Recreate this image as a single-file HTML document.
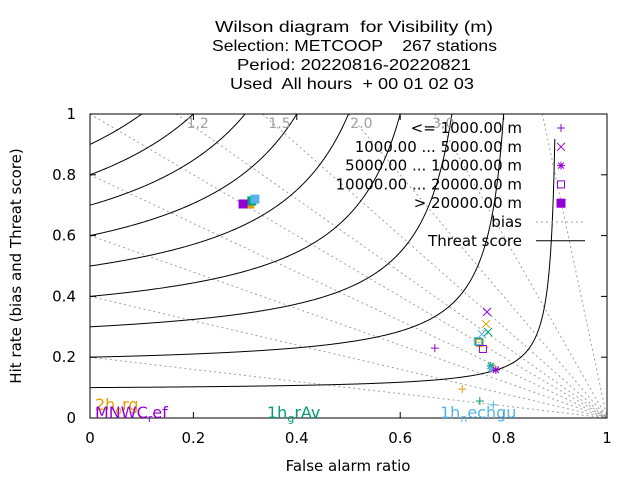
<!DOCTYPE html>
<html><head><meta charset="utf-8"><style>
body{margin:0;background:#fff}
svg{display:block}
text{font-family:"DejaVu Sans","Liberation Sans",sans-serif;white-space:pre}
</style></head><body>
<svg id="chart" width="640" height="480" viewBox="0 0 640 480" xmlns="http://www.w3.org/2000/svg" xml:space="preserve">
<g font-size="16" fill="#000"><text x="215" y="32" textLength="278" lengthAdjust="spacingAndGlyphs" style="font-family:'Liberation Sans',sans-serif">Wilson diagram  for Visibility (m)</text><text x="212" y="51" textLength="285" lengthAdjust="spacingAndGlyphs" style="font-family:'Liberation Sans',sans-serif">Selection: METCOOP    267 stations</text><text x="237" y="70" textLength="234" lengthAdjust="spacingAndGlyphs" style="font-family:'Liberation Sans',sans-serif">Period: 20220816-20220821</text><text x="230" y="89" textLength="244" lengthAdjust="spacingAndGlyphs" style="font-family:'Liberation Sans',sans-serif">Used  All hours  + 00 01 02 03</text></g>
<defs><clipPath id="pc"><rect x="90" y="114" width="517" height="304"/></clipPath></defs>
<g id="bias" clip-path="url(#pc)"></g>
<g id="ts" clip-path="url(#pc)"></g>
<g id="axes"></g>
<g id="legend"></g>
<g id="pts"></g>
<g font-size="16"><text x="95" y="410" fill="#e69f00">2h<tspan font-size="11" dy="4">o</tspan><tspan dy="-4">rg</tspan></text><text x="95" y="418" fill="#9400d3">MNWC<tspan font-size="11" dy="4">r</tspan><tspan dy="-4">ef</tspan></text><text x="267" y="418" fill="#009e73">1h<tspan font-size="11" dy="4">g</tspan><tspan dy="-4">rAv</tspan></text><text x="440" y="418" fill="#56b4e9">1h<tspan font-size="11" dy="4">n</tspan><tspan dy="-4">echgu</tspan></text></g>
</svg>
<script>
const biasValues=[0.2,0.4,0.6,0.8,1,1.2,1.5,2,3,8];
const biasLabelValues=[1.2,1.5,2,3];
const biasLabels=["1.2","1.5","2.0","3.0"];
const tsValues=[0.1,0.2,0.3,0.4,0.5,0.6,0.7,0.8,0.9];
const xTicks=[0,0.2,0.4,0.6,0.8,1];
const yTicks=[0,0.2,0.4,0.6,0.8,1];
const seriesNames=["<= 1000.00 m","1000.00 ... 5000.00 m","5000.00 ... 10000.00 m","10000.00 ... 20000.00 m","> 20000.00 m"];
const seriesMarks=["plus","cross","star","box","fbox"];
const modelColors=["#9400d3","#009e73","#56b4e9","#e69f00"];
const plusFAR=[0.667,0.754,0.78,0.72];
const plusPOD=[0.23,0.056,0.043,0.095];
const crossFAR=[0.768,0.77,0.758,0.766];
const crossPOD=[0.349,0.283,0.276,0.309];
const starFAR=[0.785,0.775,0.775,0.778];
const starPOD=[0.158,0.172,0.162,0.165];
const boxFAR=[0.76,0.752,0.75,0.754];
const boxPOD=[0.227,0.25,0.253,0.247];
const fboxFAR=[0.296,0.313,0.319,0.309];
const fboxPOD=[0.704,0.714,0.72,0.704];

const NS="http://www.w3.org/2000/svg";
const X0=90,X1=607,Y0=418,Y1=114;
const sx=v=>X0+v*(X1-X0), sy=v=>Y0-v*(Y0-Y1);
function mk(tag,attrs,parent){const e=document.createElementNS(NS,tag);for(const k in attrs)e.setAttribute(k,attrs[k]);parent.appendChild(e);return e;}
const gB=document.getElementById('bias'),gT=document.getElementById('ts'),gA=document.getElementById('axes'),gL=document.getElementById('legend'),gP=document.getElementById('pts');
biasValues.forEach(b=>{
  const fTop=Math.max(0,1-1/b), pTop=b*(1-fTop);
  const l=mk('line',{x1:sx(fTop),y1:sy(pTop),x2:sx(1),y2:sy(0),stroke:'#a0a0a0','stroke-width':1,'stroke-dasharray':'2,3'},gB);
  
  
});
biasLabelValues.forEach((b,i)=>{
  const t=mk('text',{x:sx(1-0.95/b),y:sy(1)+14,'font-size':14,fill:'#a0a0a0','text-anchor':'middle'},gA);
  t.textContent=biasLabels[i];
  
  
});
tsValues.forEach(ts=>{
  let d='';
  for(let i=0;i<=600;i++){const f=i/600*0.999;const den=1/ts+1-1/(1-f);if(den<=0)break;const p=1/den;if(p>1.05)break;d+=(d?'L':'M')+sx(f).toFixed(2)+','+sy(p).toFixed(2);}
  const pth=mk('path',{d:d,fill:'none',stroke:'#000','stroke-width':1},gT);
  
  
});
mk('rect',{x:X0,y:Y1,width:X1-X0,height:Y0-Y1,fill:'none',stroke:'#000','stroke-width':1},gA);
xTicks.forEach(v=>{
  mk('line',{x1:sx(v),y1:Y0,x2:sx(v),y2:Y0-6,stroke:'#000'},gA);mk('line',{x1:sx(v),y1:Y1,x2:sx(v),y2:Y1+6,stroke:'#000'},gA);
  const t=mk('text',{x:sx(v),y:443,'font-size':15,'text-anchor':'middle'},gA);t.textContent=String(v);
  
  
});
yTicks.forEach(v=>{
  mk('line',{x1:X0,y1:sy(v),x2:X0+6,y2:sy(v),stroke:'#000'},gA);mk('line',{x1:X1,y1:sy(v),x2:X1-6,y2:sy(v),stroke:'#000'},gA);
  const t=mk('text',{x:76,y:sy(v)+5,'font-size':15,'text-anchor':'end'},gA);t.textContent=String(v);
  
  
});
let xt=mk('text',{x:348,y:471,'font-size':15,'text-anchor':'middle'},gA);xt.textContent='False alarm ratio';


let yt=mk('text',{x:0,y:0,'font-size':15,'text-anchor':'middle',transform:'translate(21,266) rotate(-90)'},gA);yt.textContent='Hit rate (bias and Threat score)';


function marker(type,x,y,c,parent){
  const g=mk('g',{stroke:c,fill:'none','stroke-width':1},parent);
  if(type==='plus'){mk('path',{d:`M${x-4},${y}H${x+4}M${x},${y-4}V${y+4}`},g);}
  else if(type==='cross'){mk('path',{d:`M${x-4},${y-4}L${x+4},${y+4}M${x-4},${y+4}L${x+4},${y-4}`},g);}
  else if(type==='star'){mk('path',{d:`M${x-4},${y}H${x+4}M${x},${y-4}V${y+4}M${x-3},${y-3}L${x+3},${y+3}M${x-3},${y+3}L${x+3},${y-3}`},g);}
  else if(type==='box'){mk('rect',{x:x-3.5,y:y-3.5,width:7,height:7},g);}
  else {mk('rect',{x:x-4,y:y-4,width:8,height:8,fill:c,stroke:c},g);}
  return g;
}
const LY=128,LS=18.8;
seriesNames.forEach((n,i)=>{
  const y=LY+i*LS;
  const t=mk('text',{x:522,y:y+5,'font-size':15,'text-anchor':'end'},gL);t.textContent=n;
  
  
  marker(seriesMarks[i],561,y,'#9400d3',gL);
});
let bt=mk('text',{x:522,y:LY+5*LS+5,'font-size':15,'text-anchor':'end'},gL);bt.textContent='bias';


mk('line',{x1:536,y1:LY+5*LS,x2:585,y2:LY+5*LS,stroke:'#a0a0a0','stroke-dasharray':'2,3'},gL);
let tt=mk('text',{x:522,y:LY+6*LS+5,'font-size':15,'text-anchor':'end'},gL);tt.textContent='Threat score';


mk('line',{x1:536,y1:LY+6*LS,x2:585,y2:LY+6*LS,stroke:'#000'},gL);
const sets=[["plus",plusFAR,plusPOD],["cross",crossFAR,crossPOD],["star",starFAR,starPOD],["box",boxFAR,boxPOD],["fbox",fboxFAR,fboxPOD]];
sets.forEach(([t,F,P])=>{
  [3,1,2,0].forEach(m=>{
    const g=marker(t,sx(F[m]),sy(P[m]),modelColors[m],gP);
    
    
  });
});
</script>
</body></html>
